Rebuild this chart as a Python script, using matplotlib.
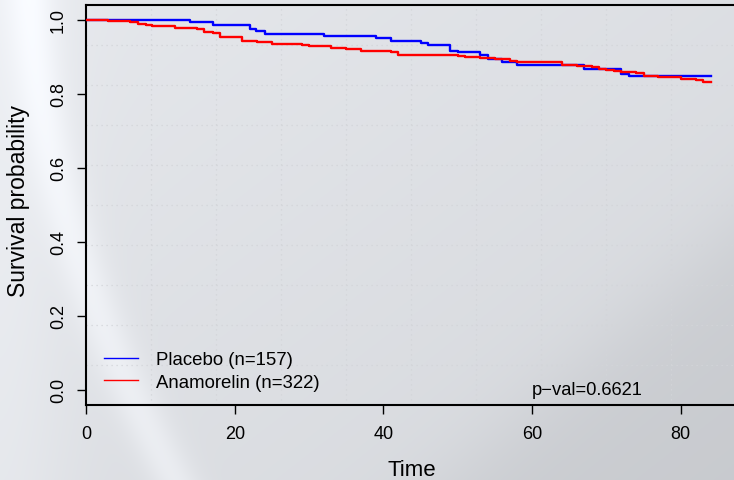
import numpy as np
import matplotlib
matplotlib.use("Agg")
import matplotlib.pyplot as plt

# ---- data ----
placebo_time = [0, 14.0, 17.0, 22.0, 22.9, 24.0, 32.0, 39.0, 41.0, 45.0, 46.0,
                49.0, 50.0, 53.0, 54.1, 56.0, 58.0, 67.0, 72.0, 73.0, 84.1]
placebo_surv = [1.0, 0.994, 0.987, 0.976, 0.969, 0.962, 0.956, 0.950, 0.943, 0.937, 0.931,
                0.917, 0.912, 0.905, 0.893, 0.886, 0.879, 0.866, 0.854, 0.848, 0.848]

anam_time = [0, 2.9, 5.9, 6.9, 8.0, 8.9, 11.9, 14.9, 15.8, 17.0, 18.0, 21.0, 23.0, 25.0,
             29.0, 30.0, 33.0, 35.0, 37.0, 41.0, 42.0, 50.0, 51.0, 53.0, 55.0, 57.0, 58.0,
             60.0, 64.0, 66.0, 68.0, 69.0, 70.0, 71.0, 72.0, 73.0, 74.0, 75.0, 77.0, 80.0,
             82.0, 83.0, 84.1]
anam_surv = [1.0, 0.997, 0.994, 0.990, 0.987, 0.983, 0.979, 0.974, 0.968, 0.964, 0.953, 0.944,
             0.940, 0.935, 0.932, 0.928, 0.925, 0.920, 0.915, 0.912, 0.906, 0.902, 0.899, 0.896,
             0.893, 0.889, 0.887, 0.885, 0.879, 0.876, 0.872, 0.868, 0.865, 0.863, 0.860, 0.858,
             0.855, 0.849, 0.846, 0.841, 0.838, 0.832, 0.832]

labels = ["Placebo (n=157)", "Anamorelin (n=322)"]
pval_text = "p\u2212val=0.6621"
x_ticks = [0, 20, 40, 60, 80]
y_ticks = [0.0, 0.2, 0.4, 0.6, 0.8, 1.0]

plt.rcParams['font.family'] = ['Liberation Sans', 'DejaVu Sans']

W, H = 734, 481
fig = plt.figure(figsize=(W / 100, H / 100), dpi=100)

# ---- background gradient with light streak ----
yy, xx = np.mgrid[0:H, 0:W].astype(float)
base = 0.915 - 0.035 * (xx / W) - 0.03 * (yy / H)
xc = 30 + 0.06 * yy + 0.0005 * yy ** 2
streak = 0.055 * np.exp(-((xx - xc) / 24.0) ** 2)
leftlight = 0.03 * np.exp(-(xx / 70.0) ** 2)
d = (xx - 734) * 251 / 284.0 + (yy - 230)
wedge = -0.05 / (1 + np.exp(-d / 30.0))
val = np.clip(base + streak + leftlight + wedge, 0, 1)
img = np.dstack([val - 0.014, val - 0.005, val + 0.012])
img = np.clip(img, 0, 1)
bg = fig.add_axes([0, 0, 1, 1], zorder=-10)
bg.imshow(img, aspect='auto', extent=[0, 1, 0, 1], origin='upper')
bg.axis('off')

# ---- main axes ----
left = 86.3 / W
right = 736.4 / W
bottom = (H - 405.7) / H
top = (H - 6.0) / H
ax = fig.add_axes([left, bottom, right - left, top - bottom])
ax.patch.set_alpha(0)
ax.set_xlim(0, 87.5)
ax.set_ylim(-0.04, 1.04)

for i in range(1, 10):
    ax.axvline(8.75 * i, color='#d3d5d9', lw=0.9, ls=(0, (1, 3)), zorder=1)
    ax.axhline(-0.04 + 0.108 * i, color='#d3d5d9', lw=0.9, ls=(0, (1, 3)), zorder=1)

ax.step(placebo_time, placebo_surv, where='post', color='#0000ff', lw=1.7, label=labels[0], zorder=3)
ax.step(anam_time, anam_surv, where='post', color='#ff0000', lw=1.7, label=labels[1], zorder=3)

for s in ax.spines.values():
    s.set_linewidth(1.5)
    s.set_color('black')

ax.set_xticks(x_ticks)
ax.set_xticklabels([str(v) for v in x_ticks])
ax.set_yticks(y_ticks)
ax.set_yticklabels([f"{v:.1f}" for v in y_ticks], rotation=90, va='center')
ax.tick_params(axis='both', direction='out', length=6.5, width=1.0, colors='black',
               labelsize=13)
ax.tick_params(axis='x', pad=8)
ax.tick_params(axis='y', pad=7.5)

ax.set_xlabel("Time", fontsize=16)
ax.xaxis.set_label_coords(0.5, -0.161)
ax.xaxis.label.set_va('center')
ax.set_ylabel("Survival probability", fontsize=16.5)
ax.yaxis.set_label_coords(-0.105, 0.512)
ax.yaxis.label.set_va('center')

leg = ax.legend(loc='upper left', bbox_to_anchor=(0.027, 0.134), frameon=False,
                fontsize=13.4, handlelength=1.85, handletextpad=0.95, labelspacing=0.3,
                borderpad=0, borderaxespad=0)
for ln in leg.get_lines():
    ln.set_linewidth(1.0)

ax.text(60, 0.0, pval_text, ha='left', va='center', fontsize=13.2)

fig.savefig("out.png", dpi=100)
